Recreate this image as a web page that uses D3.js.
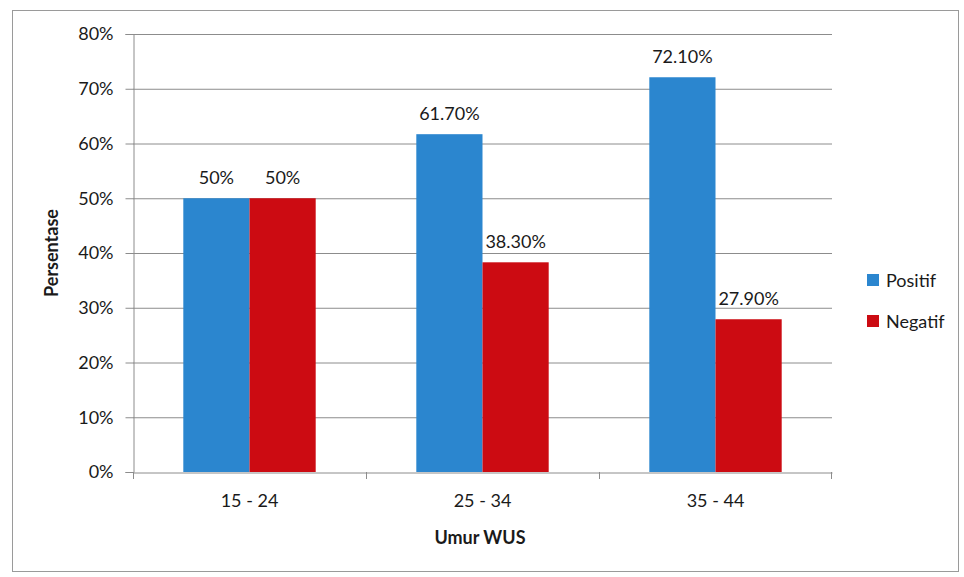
<!DOCTYPE html>
<html><head><meta charset="utf-8">
<script src="https://cdn.jsdelivr.net/npm/d3@7"></script>
<style>body{margin:0;background:#fff;} text{font-family:Lato,"Open Sans",sans-serif;fill:#1a1a1a;}</style>
</head><body>
<svg id="c" width="964" height="577"></svg>
<script>
const categories = ["15 - 24", "25 - 34", "35 - 44"];
const seriesNames = ["Positif", "Negatif"];
const positif = [50, 61.7, 72.1];
const negatif = [50, 38.3, 27.9];
const valueLabels = [["50%", "61.70%", "72.10%"], ["50%", "38.30%", "27.90%"]];
const yTicks = [0, 10, 20, 30, 40, 50, 60, 70, 80];
const colors = ["#2b86cf", "#cc0b12"];

const FS = 18;
const svg = d3.select("#c");
svg.append("rect").attr("x", 12.5).attr("y", 10.5).attr("width", 946).attr("height", 561)
  .attr("fill", "#fff").attr("stroke", "#9a9a9a").attr("stroke-width", 1);

const m = {left: 133, right: 832, top: 34, bottom: 472};
const x = d3.scaleBand().domain(categories).range([m.left, m.right]).paddingInner(0).paddingOuter(0);
const xs = d3.scaleBand().domain(seriesNames).range([0, x.bandwidth()]).paddingInner(0).paddingOuter(0.76);
const y = d3.scaleLinear().domain([0, 80]).range([m.bottom, m.top]);

// gridlines
svg.append("g").selectAll("line").data(yTicks.filter(d => d > 0)).join("line")
  .attr("x1", m.left).attr("x2", m.right).attr("y1", d => y(d) + 0.5).attr("y2", d => y(d) + 0.5)
  .attr("stroke", "#8c8c8c").attr("stroke-width", 1);

// y axis
const ya = svg.append("g").attr("transform", `translate(${m.left + 0.5},0)`)
  .call(d3.axisLeft(y).tickValues(yTicks).tickFormat(d => d + "%").tickSize(8).tickPadding(12));
ya.select(".domain").attr("stroke", "#8c8c8c");
ya.selectAll(".tick line").attr("stroke", "#8c8c8c");
ya.selectAll(".tick text").attr("font-size", FS).attr("fill", "#1a1a1a").style("font-family", "Lato, sans-serif");

// bars
const data = [positif, negatif];
const g = svg.append("g");
seriesNames.forEach((s, si) => {
  g.selectAll(".b" + si).data(categories).join("rect")
    .attr("x", c => x(c) + xs(s)).attr("width", xs.bandwidth())
    .attr("y", (c, i) => y(data[si][i])).attr("height", (c, i) => y(0) - y(data[si][i]))
    .attr("fill", colors[si]);
  g.selectAll(".l" + si).data(categories).join("text")
    .attr("x", c => x(c) + xs(s) + xs.bandwidth() / 2)
    .attr("y", (c, i) => y(data[si][i]) - 14)
    .attr("text-anchor", "middle").attr("font-size", FS)
    .text((c, i) => valueLabels[si][i]);
});

// x axis
const xa = svg.append("g").attr("transform", `translate(0,${m.bottom + 0.5})`)
  .call(d3.axisBottom(x).tickSize(0).tickPadding(22));
xa.select(".domain").attr("stroke", "#8c8c8c");
xa.selectAll(".tick text").attr("font-size", FS).attr("fill", "#1a1a1a").style("font-family", "Lato, sans-serif");
svg.append("g").selectAll("line").data(categories.concat(["end"])).join("line")
  .attr("x1", (d, i) => i < categories.length ? x(d) + 0.5 : m.right - 0.5)
  .attr("x2", (d, i) => i < categories.length ? x(d) + 0.5 : m.right - 0.5)
  .attr("y1", m.bottom).attr("y2", m.bottom + 7).attr("stroke", "#8c8c8c");

// axis titles
svg.append("text").attr("x", 480).attr("y", 544).attr("text-anchor", "middle")
  .attr("font-size", FS).attr("font-weight", "bold").text("Umur WUS");
svg.append("text").attr("transform", "translate(58,253) rotate(-90)").attr("text-anchor", "middle")
  .attr("font-size", FS).attr("font-weight", "bold").text("Persentase");

// legend
const lg = svg.append("g");
seriesNames.forEach((s, i) => {
  lg.append("rect").attr("x", 867).attr("y", 274 + i * 41).attr("width", 12).attr("height", 12).attr("fill", colors[i]);
  lg.append("text").attr("x", 886).attr("y", 287 + i * 41).attr("font-size", FS).text(s);
});
</script>
</body></html>
